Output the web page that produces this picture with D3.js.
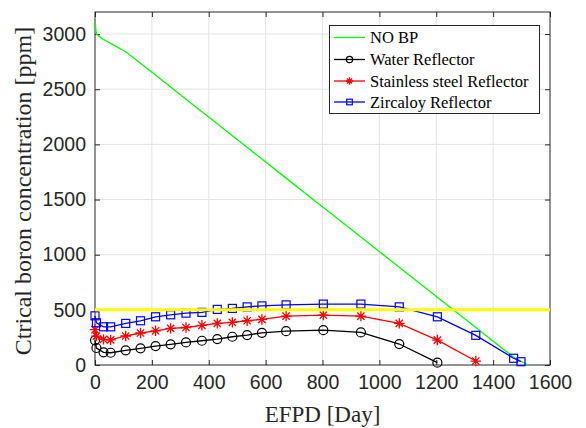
<!DOCTYPE html>
<html>
<head>
<meta charset="utf-8">
<script src="https://cdn.jsdelivr.net/npm/d3@7"></script>
<style>
  body { margin: 0; background: #fff; }
  svg { display: block; }
</style>
</head>
<body>
<svg id="chart" width="586" height="428"></svg>
<script>
// EFPD steps (days)
const days = [0, 5, 30, 55, 108, 160, 213, 266, 320, 376, 430, 483, 535, 587, 672, 803, 935, 1070, 1204, 1339, 1472, 1498];

const noBpDays = [0, 5, 30, 55, 108, 160, 213, 266, 320, 376, 430, 483, 535, 587, 672, 803, 935, 1070, 1204, 1339, 1472, 1523];
const noBp = [3100, 3000, 2950, 2915, 2840, 2735, 2628, 2520, 2410, 2296, 2186, 2078, 1973, 1867, 1694, 1428, 1160, 886, 614, 340, 70, 0];

const water = [224, 154, 115, 111, 133, 151, 172, 187, 205, 220, 235, 256, 271, 292, 307, 316, 295, 190, 21];
const stainless = [320, 262, 232, 228, 263, 290, 310, 332, 340, 360, 377, 386, 401, 413, 443, 452, 443, 377, 226, 36];
const zircaloy = [446, 383, 346, 346, 377, 401, 437, 455, 470, 477, 504, 513, 527, 536, 545, 552, 552, 527, 437, 269, 61, 30];

const limitValue = 500;
const xTicks = [0, 200, 400, 600, 800, 1000, 1200, 1400, 1600];
const yTicks = [0, 500, 1000, 1500, 2000, 2500, 3000];

const legendNames = ["NO BP", "Water Reflector", "Stainless steel Reflector", "Zircaloy Reflector"];

const axisColor = "#262626";
const plot = { left: 95, right: 550, top: 12, bottom: 365 };

const svg = d3.select("#chart");

const x = d3.scaleLinear().domain([0, 1600]).range([plot.left, plot.right]);
const y = d3.scaleLinear().domain([0, 3200]).range([plot.bottom, plot.top]);

// grid
const grid = svg.append("g");
grid.selectAll(".gx").data(xTicks.slice(1, -1)).enter().append("line")
  .attr("x1", d => x(d)).attr("x2", d => x(d))
  .attr("y1", plot.top).attr("y2", plot.bottom)
  .attr("stroke", "#e3e3e3").attr("stroke-width", 1);
grid.selectAll(".gy").data(yTicks.slice(1)).enter().append("line")
  .attr("x1", plot.left).attr("x2", plot.right)
  .attr("y1", d => y(d)).attr("y2", d => y(d))
  .attr("stroke", "#e3e3e3").attr("stroke-width", 1);

// axes
const fmt = d3.format("d");
const xAxis = d3.axisBottom(x).tickValues(xTicks).tickFormat(fmt).tickSizeInner(-5).tickSizeOuter(0).tickPadding(10);
const yAxis = d3.axisLeft(y).tickValues(yTicks).tickFormat(fmt).tickSizeInner(-5).tickSizeOuter(0).tickPadding(9);
const xTop = d3.axisTop(x).tickValues(xTicks).tickSizeInner(-5).tickSizeOuter(0).tickFormat("");
const yRight = d3.axisRight(y).tickValues(yTicks).tickSizeInner(-5).tickSizeOuter(0).tickFormat("");

function styleAxis(g) {
  g.select(".domain").remove();
  g.selectAll("line").attr("stroke", axisColor);
  g.selectAll("text").attr("fill", axisColor)
    .style("font-family", "'Liberation Sans', Arial, sans-serif")
    .style("font-size", "19.5px");
}
svg.append("g").attr("transform", `translate(0,${plot.bottom})`).call(xAxis).call(styleAxis);
svg.append("g").attr("transform", `translate(${plot.left},0)`).call(yAxis).call(styleAxis);
svg.append("g").attr("transform", `translate(0,${plot.top})`).call(xTop).call(styleAxis);
svg.append("g").attr("transform", `translate(${plot.right},0)`).call(yRight).call(styleAxis);

svg.append("rect")
  .attr("x", plot.left).attr("y", plot.top)
  .attr("width", plot.right - plot.left).attr("height", plot.bottom - plot.top)
  .attr("fill", "none").attr("stroke", axisColor).attr("stroke-width", 1);

// lines
const line = d3.line().x(d => x(d[0])).y(d => y(d[1]));
const series = [
  { name: legendNames[0], color: "#00ff00", data: d3.zip(noBpDays, noBp), marker: null },
  { name: legendNames[1], color: "#000000", data: d3.zip(days, water), marker: "circle" },
  { name: legendNames[2], color: "#ff0000", data: d3.zip(days, stainless), marker: "star" },
  { name: legendNames[3], color: "#0000ff", data: d3.zip(days, zircaloy), marker: "square" }
];

function drawMarker(g, type, color, cx, cy, s) {
  if (type === "circle") {
    g.append("circle").attr("cx", cx).attr("cy", cy).attr("r", 4.5 * s)
      .attr("fill", "none").attr("stroke", color).attr("stroke-width", 1.2);
  } else if (type === "square") {
    const h = 4 * s;
    g.append("rect").attr("x", cx - h).attr("y", cy - h).attr("width", 2 * h).attr("height", 2 * h)
      .attr("fill", "none").attr("stroke", color).attr("stroke-width", 1.2);
  } else if (type === "star") {
    const r = 5.2 * s;
    const p = `M${cx - r},${cy}L${cx + r},${cy}M${cx},${cy - r}L${cx},${cy + r}` +
      `M${cx - r * 0.7},${cy - r * 0.7}L${cx + r * 0.7},${cy + r * 0.7}` +
      `M${cx - r * 0.7},${cy + r * 0.7}L${cx + r * 0.7},${cy - r * 0.7}`;
    g.append("path").attr("d", p).attr("stroke", color).attr("stroke-width", 1.3).attr("fill", "none");
  }
}

const gLines = svg.append("g");
series.forEach(s => {
  gLines.append("path").datum(s.data).attr("d", line)
    .attr("fill", "none").attr("stroke", s.color).attr("stroke-width", 1.3);
  if (s.marker) {
    const gm = gLines.append("g");
    s.data.forEach(d => drawMarker(gm, s.marker, s.color, x(d[0]), y(d[1]), 1));
  }
});

// 500 ppm limit
svg.append("line")
  .attr("x1", x(0)).attr("x2", x(1600))
  .attr("y1", y(limitValue)).attr("y2", y(limitValue))
  .attr("stroke", "#ffff00").attr("stroke-width", 3);

// legend
const lg = svg.append("g");
lg.append("rect").attr("x", 329.5).attr("y", 25.5).attr("width", 210).attr("height", 88)
  .attr("fill", "#fff").attr("stroke", axisColor).attr("stroke-width", 1);
const rowY = [37.5, 59.5, 81, 102];
series.forEach((s, i) => {
  lg.append("line").attr("x1", 334).attr("x2", 365).attr("y1", rowY[i]).attr("y2", rowY[i])
    .attr("stroke", s.color).attr("stroke-width", 1.3);
  if (s.marker) drawMarker(lg, s.marker, s.color, 349.5, rowY[i], 0.7);
  lg.append("text").attr("x", 370).attr("y", rowY[i] + 5.5)
    .attr("fill", "#000")
    .style("font-family", "'Liberation Serif', 'Times New Roman', serif")
    .style("font-size", "16.5px")
    .text(s.name);
});

// axis labels
svg.append("text")
  .attr("x", (plot.left + plot.right) / 2).attr("y", 422)
  .attr("text-anchor", "middle").attr("fill", axisColor)
  .style("font-family", "'Liberation Serif', 'Times New Roman', serif")
  .style("font-size", "23px")
  .text("EFPD [Day]");
svg.append("text")
  .attr("transform", `translate(31,191) rotate(-90)`)
  .attr("text-anchor", "middle").attr("fill", axisColor)
  .style("font-family", "'Liberation Serif', 'Times New Roman', serif")
  .style("font-size", "24px")
  .text("Ctrical boron concentration [ppm]");
</script>
</body>
</html>
